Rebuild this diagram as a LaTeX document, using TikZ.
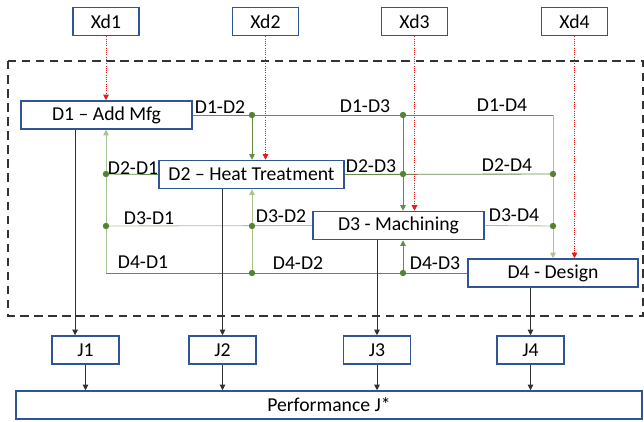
\documentclass[tikz,border=0pt]{standalone}
\usepackage{fontspec}
\setmainfont{Carlito}
\usepackage{tikz}
\usetikzlibrary{arrows.meta, positioning}
\definecolor{boxblue}{RGB}{47,85,151}
\definecolor{linkgreen}{RGB}{84,130,53}
\definecolor{linklight}{RGB}{169,197,143}
\definecolor{inred}{RGB}{225,30,30}
\definecolor{outgray}{RGB}{50,50,50}

\begin{document}
\begin{tikzpicture}[
        x=0.025cm, y=-0.025cm,
        font=\fontsize{14}{16}\selectfont,
        box/.style={rectangle, draw=boxblue, line width=1.1pt, fill=white,
                    inner sep=0pt, minimum height=0.7cm, align=center},
        xbox/.style={box, minimum width=1.65cm},
        jbox/.style={box, minimum width=1.675cm},
        lbl/.style={inner sep=0pt},
        tip/.style={-{Triangle[length=1.4mm, width=1.4mm]}},
        wire/.style={line width=0.6pt, color=linkgreen!90},
        wirelight/.style={line width=0.6pt, color=linklight},
        input/.style={tip, densely dotted, line width=0.6pt, color=inred},
        outline/.style={tip, line width=0.6pt, color=outgray}
      ]
      \useasboundingbox (0,0) rectangle (644,421);

      % coupling region
      \draw[dashed, dash pattern=on 6pt off 4pt, line width=0.8pt, color=black!80]
        (8,61) rectangle (643,316);

      % inputs
      \node[xbox] (xd1) at (106,21.5)   {Xd1};
      \node[xbox] (xd2) at (265.5,21.5) {Xd2};
      \node[xbox] (xd3) at (414.5,21.5) {Xd3};
      \node[xbox] (xd4) at (574.5,21.5) {Xd4};

      % disciplines
      \node[box, minimum width=4.275cm] (d1) at (106.5,115)   {D1 -- Add Mfg};
      \node[box, minimum width=4.625cm] (d2) at (251.5,174.5) {D2 -- Heat Treatment};
      \node[box, minimum width=4.275cm] (d3) at (398.5,225.5) {D3 - Machining};
      \node[box, minimum width=4.25cm]  (d4) at (553,273)     {D4 - Design};

      % objectives
      \node[jbox] (j1) at (85.5,350)  {J1};
      \node[jbox] (j2) at (222.5,350) {J2};
      \node[jbox] (j3) at (377,350)   {J3};
      \node[jbox] (j4) at (530.5,350) {J4};
      \node[box, minimum width=15.65cm] (perf) at (329,405) {Performance J*};

      % junctions
      \coordinate (a12) at (252,115);
      \coordinate (a13) at (403,115);
      \coordinate (a14) at (553,115);
      \coordinate (a21) at (106,174);
      \coordinate (a23) at (403,174);
      \coordinate (a24) at (553,174);
      \coordinate (a31) at (106,226);
      \coordinate (a32) at (252,226);
      \coordinate (a34) at (553,226);
      \coordinate (a41) at (106,273);
      \coordinate (a42) at (252,273);
      \coordinate (a43) at (403,273);

      % couplings
      \draw[wire] (d1.east) -- (a14);
      \draw[wirelight, tip] (a14) -- (d4.north);
      \draw[wire, tip] (a12) -- (a12 |- d2.north);
      \draw[wire, tip] (a13) -- (a13 |- d3.north);
      \draw[wire] (d2.east) -- (a24);
      \draw[wire] (d2.west) -- (a21);
      \draw[wirelight, tip] (a41) -- (a41 |- d1.south);
      \draw[wirelight] (d3.west) -- (a31);
      \draw[wirelight] (d3.east) -- (a34);
      \draw[wirelight, tip] (a42) -- (a42 |- d2.south);
      \draw[wire] (d4.west) -- (a41);
      \draw[wire, tip] (a43) -- (a43 |- d3.south);
      \foreach \p in {a12,a13,a21,a23,a24,a31,a32,a34,a42,a43}
        \fill[linkgreen] (\p) circle (0.08cm);

      \node[lbl] (t12) at (220,107) {D1-D2};
      \node[lbl] (t13) at (365,106) {D1-D3};
      \node[lbl] (t14) at (502,105) {D1-D4};
      \node[lbl] (t21) at (133,168) {D2-D1};
      \node[lbl] (t23) at (371,166) {D2-D3};
      \node[lbl] (t24) at (507,165) {D2-D4};
      \node[lbl] (t31) at (149,218) {D3-D1};
      \node[lbl] (t32) at (281,216) {D3-D2};
      \node[lbl] (t34) at (514,215) {D3-D4};
      \node[lbl] (t41) at (143,262) {D4-D1};
      \node[lbl] (t42) at (298,263) {D4-D2};
      \node[lbl] (t43) at (435,263) {D4-D3};

      % design variables
      \draw[input] (xd1.south) -- (xd1.south |- d1.north);
      \draw[input] (xd2.south) -- (xd2.south |- d2.north);
      \draw[input] (xd3.south) -- (xd3.south |- d3.north);
      \draw[input] (xd4.south) -- (xd4.south |- d4.north);

      % outputs
      \draw[outline] ([xshift=-0.26cm]j1.north |- d1.south) -- ([xshift=-0.26cm]j1.north);
      \draw[outline] (j2.north |- d2.south) -- (j2.north);
      \draw[outline] (j3.north |- d3.south) -- (j3.north);
      \draw[outline] (j4.north |- d4.south) -- (j4.north);
      \draw[outline] (j1) -- (j1 |- perf.north);
      \draw[outline] (j2) -- (j2 |- perf.north);
      \draw[outline] (j3) -- (j3 |- perf.north);
      \draw[outline] (j4) -- (j4 |- perf.north);
    \end{tikzpicture}
\end{document}
